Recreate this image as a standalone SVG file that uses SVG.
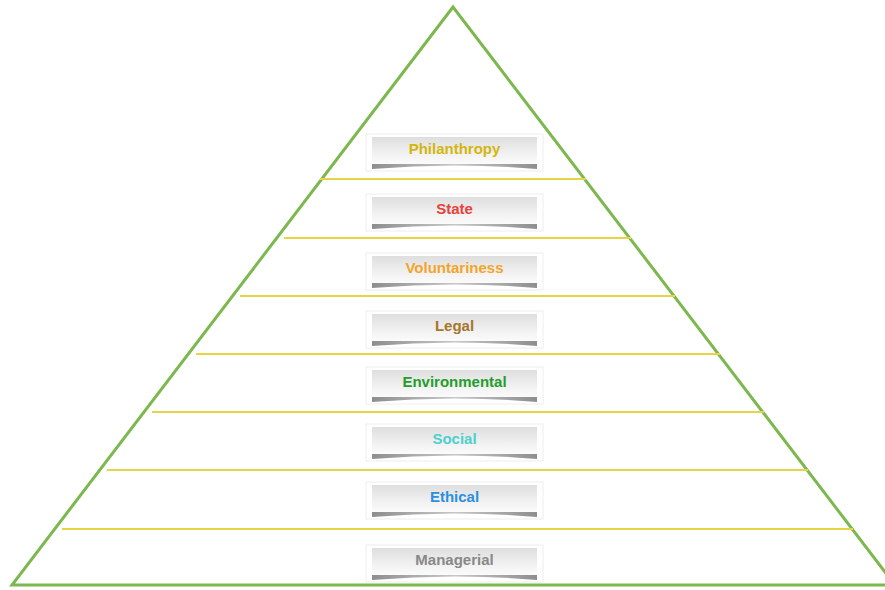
<svg xmlns="http://www.w3.org/2000/svg" width="885" height="590" viewBox="0 0 885 590">
<defs>
<linearGradient id="boxg" x1="0" y1="0" x2="0" y2="1">
<stop offset="0" stop-color="#dedede"/>
<stop offset="0.6" stop-color="#f1f1f1"/>
<stop offset="1" stop-color="#fbfbfb"/>
</linearGradient>
<linearGradient id="shg" x1="0" y1="0" x2="1" y2="0">
<stop offset="0" stop-color="#7a7a7a"/>
<stop offset="0.5" stop-color="#bdbdbd"/>
<stop offset="1" stop-color="#7a7a7a"/>
</linearGradient>
<g id="box">
<rect x="366" y="-15" width="177" height="37" fill="#ffffff" stroke="#eeeeee" stroke-width="1"/>
<rect x="372" y="-12" width="165" height="27" fill="url(#boxg)"/>
<path d="M372,15 H537 V20 Q454.5,13 372,20 Z" fill="url(#shg)" opacity="0.85"/>
</g>
</defs>
<style>
.lbl{font-family:"Liberation Sans",Arial,sans-serif;font-weight:bold;font-size:15px;text-anchor:middle}
.div{stroke:#e6d447;stroke-width:2;fill:none}
.tri{stroke:#7cb84e;stroke-width:3;fill:#ffffff;stroke-linejoin:miter}
</style>
<rect width="885" height="590" fill="#ffffff"/>
<g id="pyramid">
<polygon class="tri" points="453,7 12,585 895,585"/>
</g>
<g id="connectors">
<line class="div" x1="320" y1="179" x2="586" y2="179"/>
<line class="div" x1="284" y1="238" x2="631" y2="238"/>
<line class="div" x1="240" y1="296" x2="675" y2="296"/>
<line class="div" x1="196" y1="354" x2="720" y2="354"/>
<line class="div" x1="152" y1="412" x2="764" y2="412"/>
<line class="div" x1="107" y1="470" x2="808" y2="470"/>
<line class="div" x1="62" y1="529" x2="853" y2="529"/>
</g>
<g id="philanthropy" transform="translate(0,149)"><use href="#box"/><text class="lbl" x="454.5" y="5" fill="#d4b60c">Philanthropy</text></g>
<g id="state" transform="translate(0,209)"><use href="#box"/><text class="lbl" x="454.5" y="5" fill="#e6413a">State</text></g>
<g id="voluntariness" transform="translate(0,268)"><use href="#box"/><text class="lbl" x="454.5" y="5" fill="#f3a52a">Voluntariness</text></g>
<g id="legal" transform="translate(0,326)"><use href="#box"/><text class="lbl" x="454.5" y="5" fill="#a5762c">Legal</text></g>
<g id="environmental" transform="translate(0,382)"><use href="#box"/><text class="lbl" x="454.5" y="5" fill="#239e2b">Environmental</text></g>
<g id="social" transform="translate(0,439)"><use href="#box"/><text class="lbl" x="454.5" y="5" fill="#4ecfd0">Social</text></g>
<g id="ethical" transform="translate(0,497)"><use href="#box"/><text class="lbl" x="454.5" y="5" fill="#2b8fe0">Ethical</text></g>
<g id="managerial" transform="translate(0,560)"><use href="#box"/><text class="lbl" x="454.5" y="5" fill="#888888">Managerial</text></g>
</svg>
